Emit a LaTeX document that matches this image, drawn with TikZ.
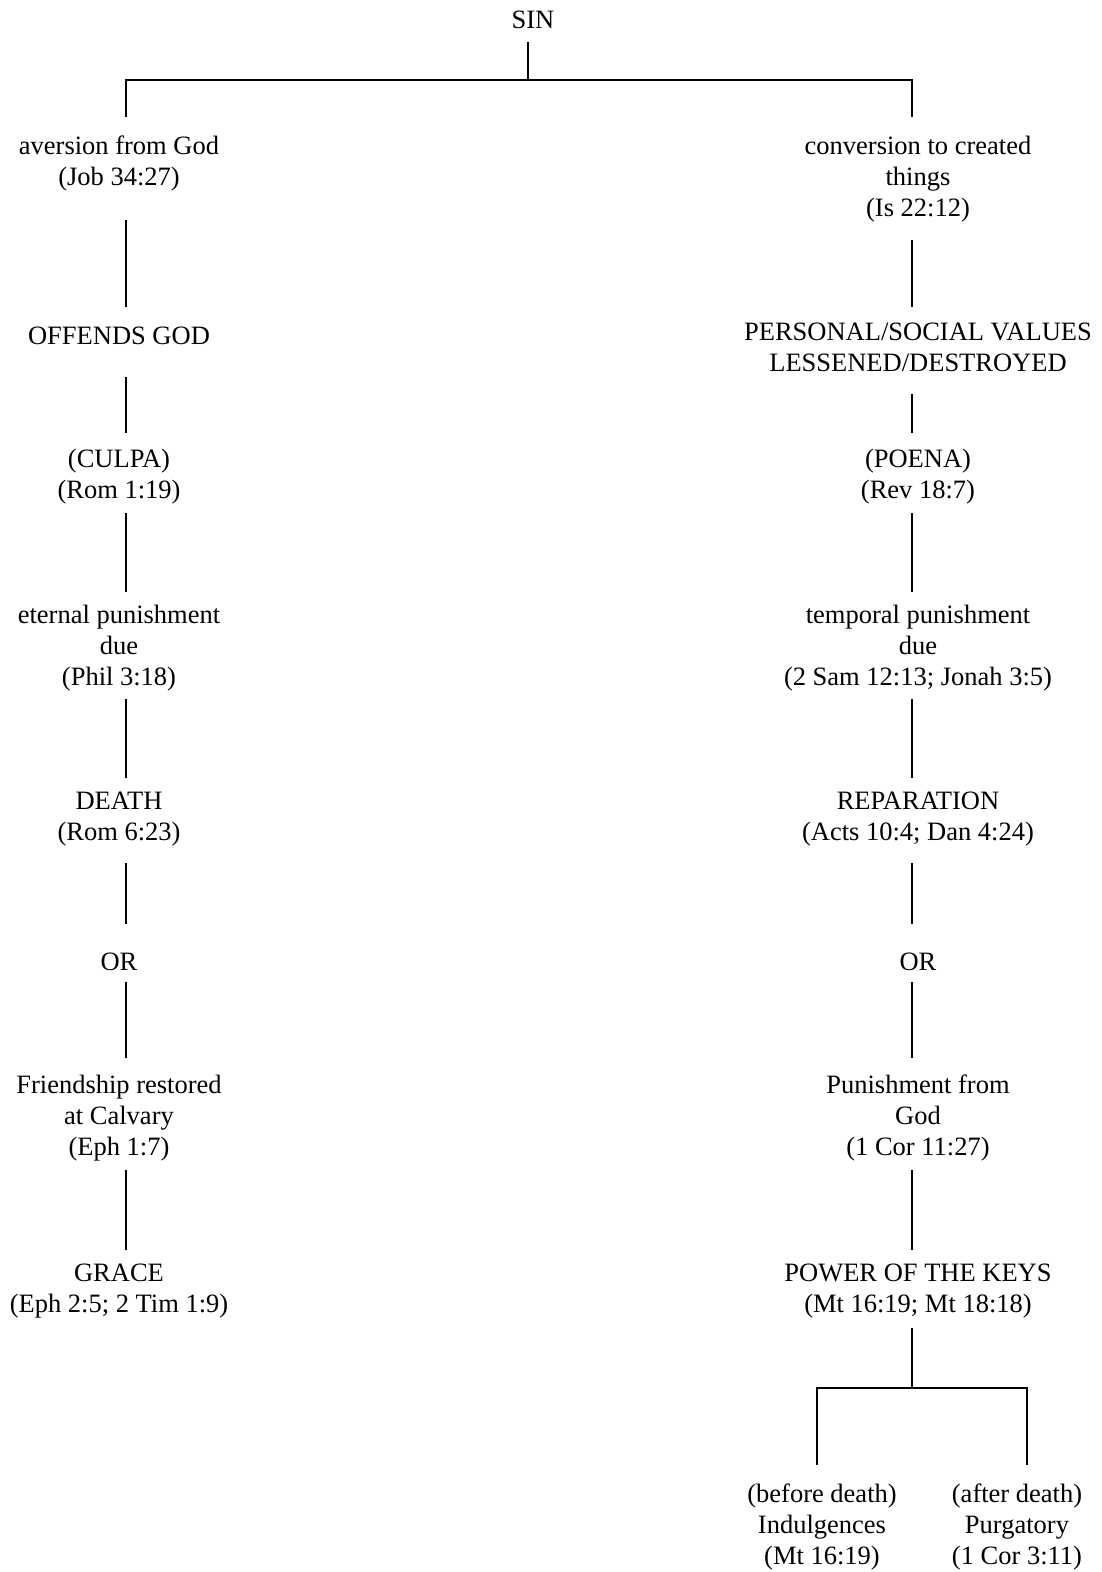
\documentclass[tikz,border=0pt]{standalone}
\usepackage{fontspec}
\setmainfont{Liberation Serif}

\tikzset{
    txt/.style={align=center, inner sep=0pt, anchor=north,
        font=\fontsize{26.5}{31}\selectfont,
        execute at begin node=\strut, execute at end node=\strut},
    conn/.style={line width=2.2pt}
}

\begin{document}
\begin{tikzpicture}[x=1pt, y=-1pt]
    \useasboundingbox (0,0) rectangle (1102,1572);

    \coordinate (colL) at (126,0);
    \coordinate (colR) at (912,0);
    \coordinate (colB1) at (817,0);
    \coordinate (colB2) at (1027,0);
    \coordinate (forkTop) at (528,80);
    \coordinate (forkBot) at (912,1388);

    \node[txt] (sin) at (533,6.3) {SIN};

    % left column
    \node[txt] (aver) at (119,135.8) {aversion from God\\(Job 34:27)};
    \node[txt] (offends) at (119,322.8) {OFFENDS GOD};
    \node[txt] (culpa) at (119,448.8) {(CULPA)\\(Rom 1:19)};
    \node[txt] (eternal) at (119,604.8) {eternal punishment\\due\\(Phil 3:18)};
    \node[txt] (death) at (119,791.8) {DEATH\\(Rom 6:23)};
    \node[txt] (orL) at (119,948.8) {OR};
    \node[txt] (friend) at (119,1074.8) {Friendship restored\\at Calvary\\(Eph 1:7)};
    \node[txt] (grace) at (119,1263.8) {GRACE\\(Eph 2:5; 2 Tim 1:9)};

    % right column
    \node[txt] (conv) at (918,135.8) {conversion to created\\things\\(Is 22:12)};
    \node[txt] (values) at (918,322.8) {PERSONAL/SOCIAL VALUES\\LESSENED/DESTROYED};
    \node[txt] (poena) at (918,448.8) {(POENA)\\(Rev 18:7)};
    \node[txt] (temporal) at (918,604.8) {temporal punishment\\due\\(2 Sam 12:13; Jonah 3:5)};
    \node[txt] (repar) at (918,791.8) {REPARATION\\(Acts 10:4; Dan 4:24)};
    \node[txt] (orR) at (918,948.8) {OR};
    \node[txt] (punish) at (918,1074.8) {Punishment from\\God\\(1 Cor 11:27)};
    \node[txt] (keys) at (918,1263.8) {POWER OF THE KEYS\\(Mt 16:19; Mt 18:18)};

    \node[txt] (before) at (822,1483.8) {(before death)\\Indulgences\\(Mt 16:19)};
    \node[txt] (after) at (1017,1483.8) {(after death)\\Purgatory\\(1 Cor 3:11)};

    % top split
    \draw[conn, shorten <=4.7pt] (sin.south -| forkTop) -- (forkTop);
    \draw[conn, shorten >=18.8pt] (forkTop) -| (aver.north -| colL);
    \draw[conn, shorten >=18.8pt] (forkTop) -| (conv.north -| colR);

    \draw[conn, shorten <=25.2pt, shorten >=15.8pt] (aver.south -| colL) -- (offends.north -| colL);
    \draw[conn, shorten <=23.2pt, shorten >=15.8pt] (offends.south -| colL) -- (culpa.north -| colL);
    \draw[conn, shorten <=5.2pt, shorten >=12.8pt] (culpa.south -| colL) -- (eternal.north -| colL);
    \draw[conn, shorten <=4.2pt, shorten >=13.8pt] (eternal.south -| colL) -- (death.north -| colL);
    \draw[conn, shorten <=13.2pt, shorten >=24.8pt] (death.south -| colL) -- (orL.north -| colL);
    \draw[conn, shorten <=2.2pt, shorten >=16.8pt] (orL.south -| colL) -- (friend.north -| colL);
    \draw[conn, shorten <=5.2pt, shorten >=13.8pt] (friend.south -| colL) -- (grace.north -| colL);

    \draw[conn, shorten <=14.2pt, shorten >=15.8pt] (conv.south -| colR) -- (values.north -| colR);
    \draw[conn, shorten <=13.2pt, shorten >=15.8pt] (values.south -| colR) -- (poena.north -| colR);
    \draw[conn, shorten <=5.2pt, shorten >=12.8pt] (poena.south -| colR) -- (temporal.north -| colR);
    \draw[conn, shorten <=4.2pt, shorten >=13.8pt] (temporal.south -| colR) -- (repar.north -| colR);
    \draw[conn, shorten <=13.2pt, shorten >=24.8pt] (repar.south -| colR) -- (orR.north -| colR);
    \draw[conn, shorten <=2.2pt, shorten >=16.8pt] (orR.south -| colR) -- (punish.north -| colR);
    \draw[conn, shorten <=5.2pt, shorten >=13.8pt] (punish.south -| colR) -- (keys.north -| colR);

    % bottom split
    \draw[conn, shorten <=6.2pt] (keys.south -| forkBot) -- (forkBot);
    \draw[conn, shorten >=18.8pt] (forkBot) -| (before.north -| colB1);
    \draw[conn, shorten >=18.8pt] (forkBot) -| (after.north -| colB2);
\end{tikzpicture}
\end{document}
